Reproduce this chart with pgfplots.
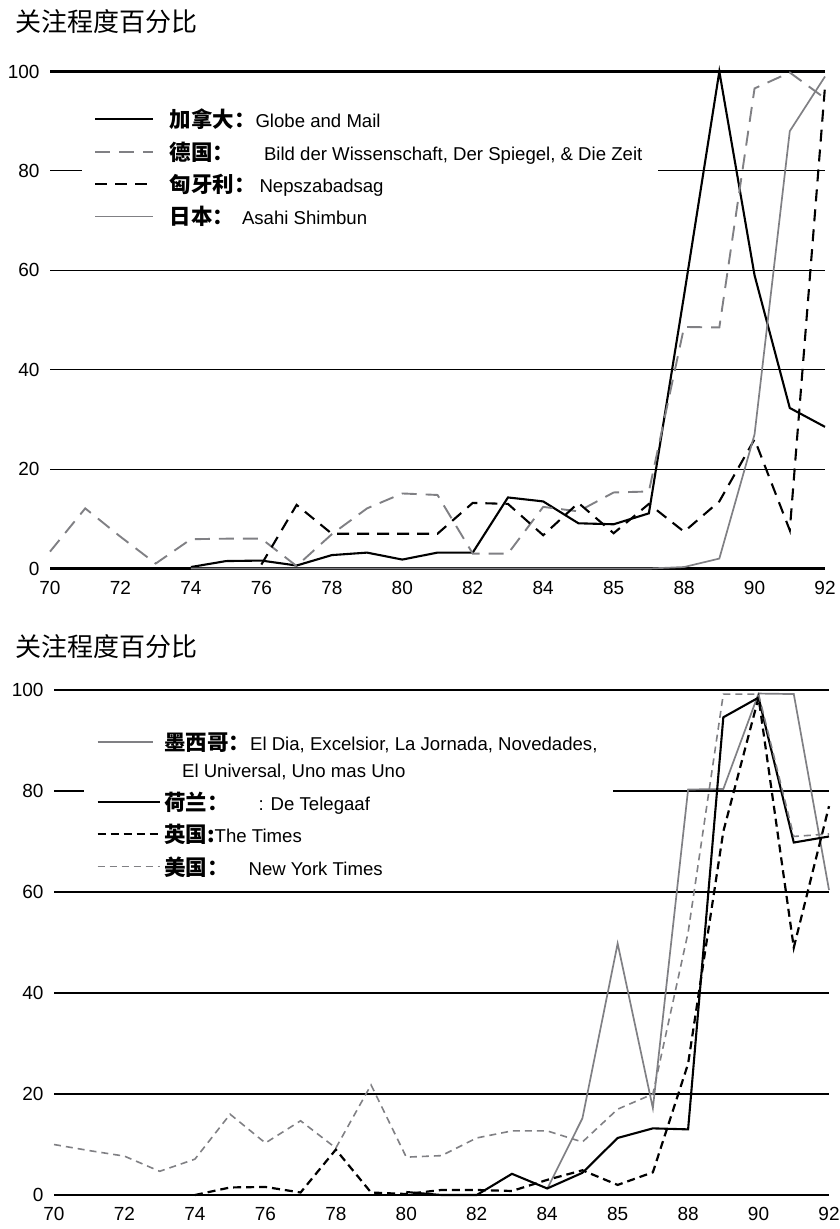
\documentclass[border=0pt]{standalone}
\usepackage{fontspec}
\setmainfont{Liberation Sans}
\newfontfamily\cjk{Noto Sans CJK SC}
\usepackage{pgfplots}
\pgfplotsset{compat=1.18}
\definecolor{lgray}{RGB}{128,128,132}

\newcommand\zh[1]{{\cjk\bfseries\fontsize{21.5bp}{24bp}\selectfont #1}}

\pgfplotsset{
  chart/.style={
    scale only axis, width=775bp,
    xmin=70, xmax=92, ymin=0, ymax=100,
    axis line style={draw=none},
    tick style={draw=none},
    xtick={70,72,...,92},
    xticklabels={70,72,74,76,78,80,82,84,85,88,90,92},
    ytick={0,20,...,100},
    ymajorgrids,
    major grid style={black, line width=1.1bp},
    extra y ticks={0,100},
    extra y tick labels={},
    extra y tick style={major grid style={black, line width=2.6bp}},
    ticklabel style={font=\fontsize{19bp}{21bp}\selectfont},
    /pgf/number format/assume math mode=true,
    yticklabel style={xshift=-7bp},
    xticklabel style={yshift=-9bp},
    clip=false,
    legend cell align=left,
    legend style={draw=none, fill=white, inner xsep=12bp, inner ysep=4bp,
      font=\fontsize{18.6bp}{22bp}\selectfont, anchor=north west,
      row sep=5.5bp, nodes={inner sep=3.5bp}},
  },
  gapleg/.style={legend image code/.code={\draw[##1] (0bp,0bp) -- (#1bp,0bp);
      \path[draw=none] (0bp,0bp) -- (62bp,0bp);}},
  topleg/.style={legend image code/.code={\draw[##1] (0bp,0bp) -- (58bp,0bp);
      \path[draw=none] (0bp,0bp) -- (71bp,0bp);}},
  fullleg/.style={legend image code/.code={\draw[##1] (0bp,0bp) -- (62bp,0bp);}},
}

\begin{document}
\begin{tikzpicture}[x=1bp,y=1bp]
\useasboundingbox (0,0) rectangle (840,-1229);

\node[anchor=west, inner sep=0] at (15,-22) {\cjk\fontsize{26bp}{28bp}\selectfont 关注程度百分比};
\node[anchor=west, inner sep=0] at (15,-647) {\cjk\fontsize{26bp}{28bp}\selectfont 关注程度百分比};

% top panel
\begin{axis}[chart, height=497bp, at={(50bp,-568.5bp)}, anchor=south west,
  legend style={at={(axis description cs:0.041,0.94)}}, topleg]
\addplot[black, line width=2.1bp] coordinates {
  (74,0.3)(75,1.5)(76,1.6)(77,0.6)(78,2.7)(79,3.2)(80,1.8)(81,3.2)(82,3.2)
  (83,14.3)(84,13.5)(85,9.1)(86,8.9)(87,11.1)(88,55)(89,100)(90,59)(91,32.3)(92,28.5)};
\addlegendentry{\zh{加拿大：}Globe and Mail}
\addplot[lgray, line width=1.9bp, dash pattern=on 15bp off 9bp] coordinates {
  (70,3.4)(71,12.1)(72,6.4)(73,1)(74,5.9)(75,6)(76,6)(77,0.5)(78,6.9)(79,12.1)
  (80,15.1)(81,14.8)(82,3)(83,3)(84,12.4)(85,11.5)(86,15.3)(87,15.5)(88,48.6)
  (89,48.5)(90,96.6)(91,99.8)(92,94.6)};
\addlegendentry{\zh{德国：}\hspace{30bp}Bild der Wissenschaft, Der Spiegel, \& Die Zeit}
\addplot[black, line width=2.1bp, dash pattern=on 12bp off 8bp] coordinates {
  (76,0.8)(77,12.8)(78,7)(79,7)(80,7)(81,7)(82,13.2)(83,13)(84,6.7)(85,13.2)
  (86,7.1)(87,13)(88,7.4)(89,13.5)(90,26)(91,7.7)(92,97)};
\addlegendentry{\zh{匈牙利：}\hspace{4bp}Nepszabadsag}
\addplot[lgray, line width=1.7bp] coordinates {
  (74,0)(75,0)(76,0)(77,0)(78,0)(79,0)(80,0)(81,0)(82,0)(83,0)(84,0)(85,0)(86,0)
  (87,0)(88,0.3)(89,2)(90,27)(91,88)(92,99)};
\addlegendentry{\zh{日本：}\hspace{8bp}Asahi Shimbun}
\end{axis}

% bottom panel
\begin{axis}[chart, height=505bp, at={(54bp,-1195bp)}, anchor=south west,
  legend style={at={(axis description cs:0.039,0.931)}}, fullleg]
\addplot[lgray, line width=1.7bp, gapleg=55] coordinates {
  (84,1.2)(85,15.2)(86,49.8)(87,17.2)(88,80.3)(89,80.4)(90,99.3)(91,99.2)(92,60.4)};
\addlegendentry{\zh{墨西哥：}El Dia, Excelsior, La Jornada, Novedades,}
\addlegendimage{empty legend}
\addlegendentry{\hspace{18bp}El Universal, Uno mas Uno}
\addplot[black, line width=2.1bp] coordinates {
  (80,0.6)(81,0)(82,0)(83,4.2)(84,1.3)(85,4.4)(86,11.3)(87,13.2)(88,13)
  (89,94.6)(90,98.5)(91,69.8)(92,71)};
\addlegendentry{\zh{荷兰：}\hspace{30bp}: De Telegaaf}
\addplot[black, line width=2.2bp, dash pattern=on 8bp off 5bp] coordinates {
  (74,0)(75,1.5)(76,1.6)(77,0.5)(78,9)(79,0.5)(80,0.2)(81,1)(82,1)(83,0.8)
  (84,3)(85,4.9)(86,2)(87,4.5)(88,26)(89,72)(90,98.5)(91,49)(92,77)};
\addlegendentry{\zh{英国:}The Times}
\addplot[lgray, line width=1.6bp, dash pattern=on 7bp off 5bp] coordinates {
  (70,10)(71,8.8)(72,7.7)(73,4.7)(74,7.1)(75,16)(76,10.3)(77,14.7)(78,9.3)
  (79,21.8)(80,7.5)(81,7.8)(82,11.3)(83,12.7)(84,12.7)(85,10.5)(86,17)(87,20)
  (88,52)(89,99.2)(90,99.2)(91,71)(92,71.5)};
\addlegendentry{\zh{美国：}\hspace{20bp}New York Times}
\end{axis}
\end{tikzpicture}
\end{document}
